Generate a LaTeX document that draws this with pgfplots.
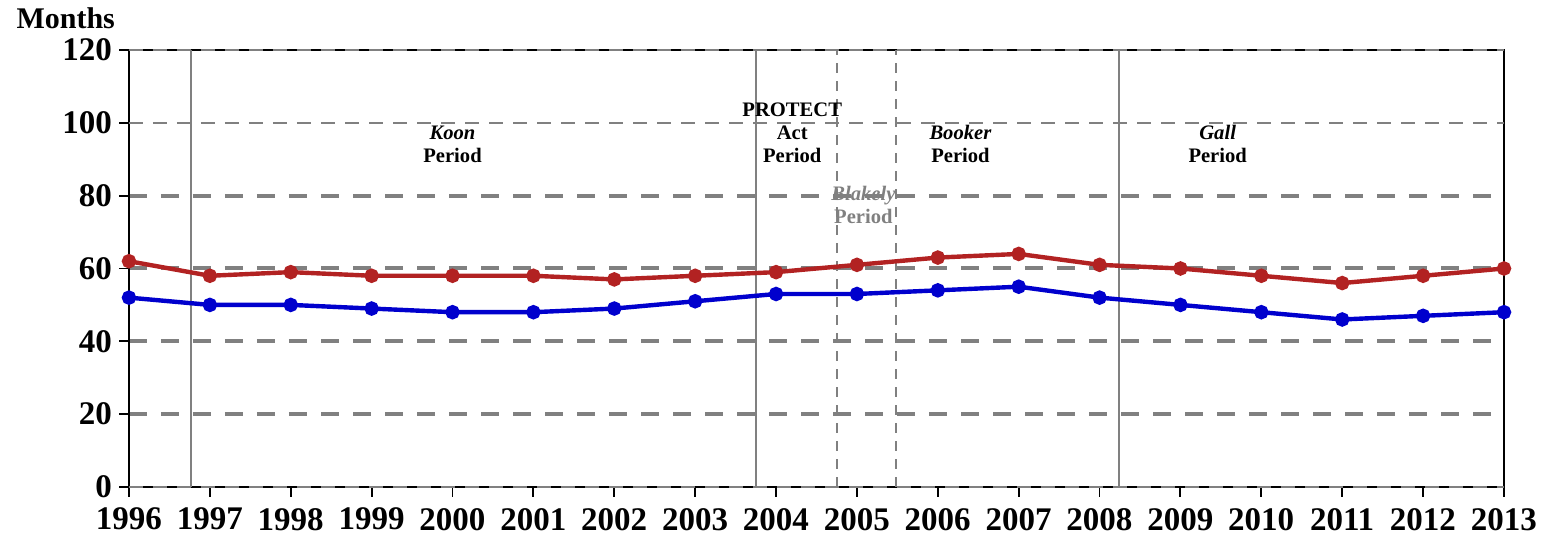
\documentclass[border=0pt]{standalone}
\usepackage{pgfplots}
\pgfplotsset{compat=1.18}
\usepackage{fontspec}
\setmainfont{Liberation Serif}
\definecolor{serred}{RGB}{178,34,34}
\definecolor{serblue}{RGB}{0,0,205}
\definecolor{gridgray}{RGB}{128,128,128}
\begin{document}
\begin{tikzpicture}
\begin{axis}[
  scale only axis,
  width=687.5pt, height=218.5pt,
  xmin=1996, xmax=2013,
  ymin=0, ymax=120,
  xtick={1996,1997,...,2013},
  ytick={20,40,60,80},
  extra y ticks={0,100,120},
  ymajorgrids,
  major grid style={gridgray, line width=2pt, dash pattern=on 9pt off 7pt},
  extra y tick style={major grid style={gridgray, line width=0.9pt, dash pattern=on 7pt off 5pt}},
  tick align=outside,
  xtick pos=bottom, ytick pos=left,
  major tick length=5pt,
  tick style={black, line width=0.9pt},
  axis line style={black, line width=1pt},
  /pgf/number format/1000 sep={},
  /pgf/number format/assume math mode=true,
  tick label style={font=\fontsize{16.5}{18}\selectfont\bfseries},
  xticklabel style={yshift=-2pt},
  clip=false,
]
% period boundaries
\addplot[gridgray, line width=0.8pt] coordinates {(1996.77,0) (1996.77,120)};
\addplot[gridgray, line width=0.8pt] coordinates {(2003.75,0) (2003.75,120)};
\addplot[gridgray, line width=0.8pt, dash pattern=on 5pt off 4pt] coordinates {(2004.75,0) (2004.75,120)};
\addplot[gridgray, line width=0.8pt, dash pattern=on 5pt off 4pt] coordinates {(2005.48,0) (2005.48,120)};
\addplot[gridgray, line width=0.8pt] coordinates {(2008.24,0) (2008.24,120)};

\addplot[serred, line width=2.2pt, mark=*, mark size=2.5pt] coordinates {
(1996,62) (1997,58) (1998,59) (1999,58) (2000,58) (2001,58) (2002,57) (2003,58) (2004,59)
(2005,61) (2006,63) (2007,64) (2008,61) (2009,60) (2010,58) (2011,56) (2012,58) (2013,60)};
\addplot[serblue, line width=2.2pt, mark=*, mark size=2.5pt] coordinates {
(1996,52) (1997,50) (1998,50) (1999,49) (2000,48) (2001,48) (2002,49) (2003,51) (2004,53)
(2005,53) (2006,54) (2007,55) (2008,52) (2009,50) (2010,48) (2011,46) (2012,47) (2013,48)};

\begin{scope}[every node/.style={align=center, font=\fontsize{10.3}{11.5}\selectfont\bfseries}]
\node at (axis cs:2000,94.1) {\textit{Koon}\\Period};
\node at (axis cs:2004.2,97.3) {PROTECT\\Act\\Period};
\node[text=gridgray] at (axis cs:2005.08,77.5) {\textit{Blakely}\\Period};
\node at (axis cs:2006.28,94.1) {\textit{Booker}\\Period};
\node at (axis cs:2009.46,94.1) {\textit{Gall}\\Period};
\end{scope}
\node[font=\fontsize{15}{17}\selectfont\bfseries, anchor=base] at (axis description cs:-0.046,1.05) {Months};
\end{axis}
\pgfresetboundingbox
\path[use as bounding box] ([xshift=-64.5pt,yshift=-23.5pt]current axis.south west) rectangle ([xshift=19pt,yshift=25pt]current axis.north east);
\end{tikzpicture}
\end{document}
